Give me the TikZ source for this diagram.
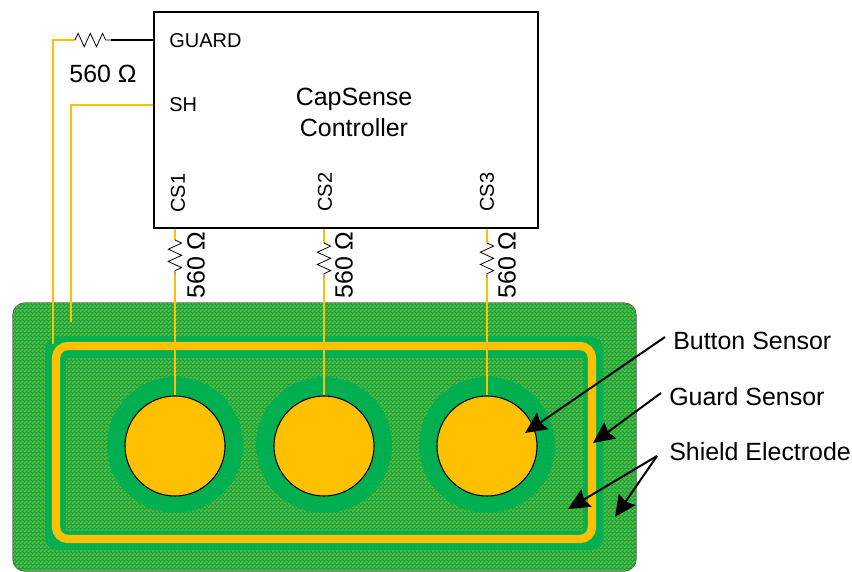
\documentclass[tikz,border=0pt]{standalone}
\usepackage{fontspec}
\setmainfont{Liberation Sans}
\usetikzlibrary{arrows.meta,patterns,decorations.pathmorphing}
\definecolor{pad}{HTML}{FFC000}
\definecolor{board}{HTML}{00B050}
\definecolor{speck}{HTML}{8CB02A}
\definecolor{edge}{HTML}{595959}
\pgfdeclarepatterninherentlycolored{shieldmesh}{\pgfqpoint{0pt}{0pt}}{\pgfqpoint{3pt}{3pt}}{\pgfqpoint{3pt}{3pt}}{
  \pgfsetfillcolor{board}
  \pgfpathrectangle{\pgfqpoint{0pt}{0pt}}{\pgfqpoint{3pt}{3pt}}
  \pgfusepath{fill}
  \pgfsetfillcolor{speck}
  \pgfpathrectangle{\pgfqpoint{0pt}{0pt}}{\pgfqpoint{1.5pt}{1.5pt}}
  \pgfpathrectangle{\pgfqpoint{1.5pt}{1.5pt}}{\pgfqpoint{1.5pt}{1.5pt}}
  \pgfusepath{fill}
}
\tikzset{
  big/.style={font=\fontsize{18.7}{23.5}\selectfont, inner sep=0pt},
  small/.style={font=\fontsize{15}{18}\selectfont, inner sep=0pt},
  callout/.style={big, anchor=west, inner xsep=6pt},
  wire/.style={draw=pad, line width=.9pt},
  zig/.style={draw=black, line width=.6pt, decorate, decoration={zigzag, segment length=9.2pt, amplitude=5pt}},
  pointer/.style={draw=black, line width=1.5pt, -{Stealth[length=16pt, width=15pt, inset=2pt]}},
  mesh/.style={pattern=shieldmesh},
}
\begin{document}
\begin{tikzpicture}[x=.75pt, y=-.75pt]
  \useasboundingbox (0,0) rectangle (852,571);
  % board
  \draw[draw=edge, line width=1pt, fill=board, rounded corners=9pt] (13,303) rectangle (636,571);
  \fill[mesh, rounded corners=9pt] (13,303) rectangle (636,571);
  \fill[board, rounded corners=9pt] (45,337) rectangle (603,550);
  \fill[mesh] (66,358) rectangle (583,530);
  \draw[draw=pad, line width=6.2pt, rounded corners=9pt] (56,346) rectangle (592,539);

  % buttons
  \foreach \n/\x in {1/175,2/324,3/487} {
    \fill[board] (\x,445) circle (68);
    \node[circle, draw=black, line width=.8pt, fill=pad, minimum size=75pt, inner sep=0pt] (btn\n) at (\x,446) {};
  }

  % controller
  \node[draw=black, line width=1.5pt, fill=white, minimum width=288pt, minimum height=162pt, anchor=north west, inner sep=0pt] (ctrl) at (152.5,10.5) {};
  \node[big, align=center] (title) at (354,112.5) {CapSense\\Controller};
  \node[small, anchor=west] (guard) at (169,41) {GUARD};
  \node[small, anchor=west] (sh) at (169,105) {SH};
  \node[small, anchor=west, rotate=90] (cs1) at (178,213) {CS1};
  \node[small, anchor=west, rotate=90] (cs2) at (325,212) {CS2};
  \node[small, anchor=west, rotate=90] (cs3) at (487,212) {CS3};

  % guard and shield lines
  \coordinate (guardend) at (53,344);
  \coordinate (shend) at (71,322);
  \coordinate (ra) at (75,40);
  \coordinate (rb) at (111,40);
  \draw[wire, line width=1.1pt] (guardend) |- (ra);
  \draw[zig] (ra) -- (rb);
  \draw[black, line width=1.1pt] (rb) -- (rb -| ctrl.west);
  \draw[wire, line width=1.1pt] (shend) |- (ctrl.west |- sh);
  \node[big] (rlabel) at (103,74) {560 Ω};

  % sensor lines
  \foreach \n/\x/\a/\b in {1/175/240/275,2/324/243/278,3/487/243/278} {
    \coordinate (r\n a) at (\x,\a);
    \coordinate (r\n b) at (\x,\b);
    \draw[wire] (r\n a -| btn\n) -- (btn\n |- ctrl.south);
    \draw[zig] (r\n a) -- (r\n b);
    \draw[wire] (r\n b) -- (btn\n.north);
  }
  \node[big, rotate=90] (r1label) at (196,265) {560 Ω};
  \node[big, rotate=90] (r2label) at (344,265) {560 Ω};
  \node[big, rotate=90] (r3label) at (507,265) {560 Ω};

  % callouts
  \node[callout] (lblbtn) at (665,341) {Button Sensor};
  \node[callout] (lblguard) at (661,397) {Guard Sensor};
  \node[callout] (lblshield) at (661,452) {Shield Electrode};
  \coordinate (tipbtn) at (525,433);
  \coordinate (tipguard) at (593,443);
  \coordinate (tipa) at (568,509);
  \coordinate (tipb) at (615,517);
  \draw[pointer] ([yshift=3pt]lblbtn.west) -- (tipbtn);
  \draw[pointer] ([yshift=3pt]lblguard.west) -- (tipguard);
  \draw[pointer] ([xshift=-3pt,yshift=-3pt]lblshield.west) -- (tipa);
  \draw[pointer] ([xshift=-3pt,yshift=-3pt]lblshield.west) -- (tipb);
\end{tikzpicture}
\end{document}
